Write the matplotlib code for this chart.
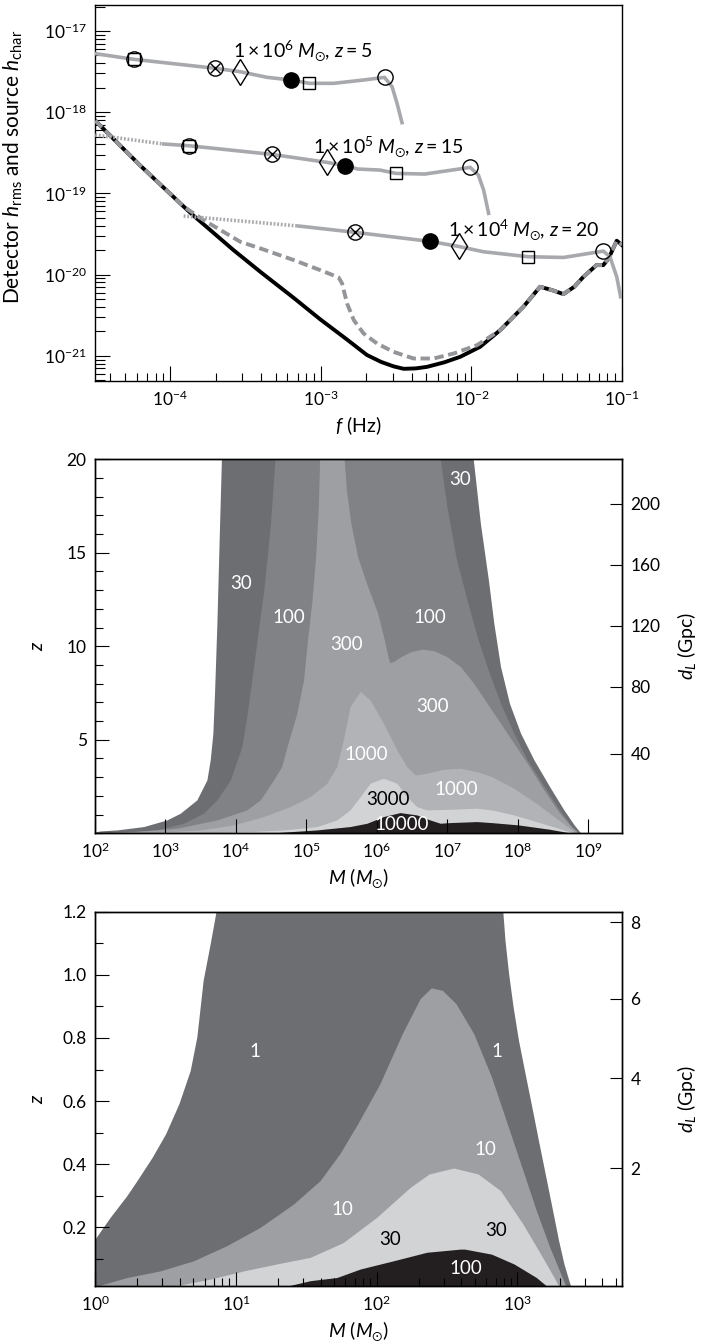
import numpy as np
import matplotlib.pyplot as plt
from matplotlib.ticker import FixedLocator, NullLocator, NullFormatter, MultipleLocator

plt.rcParams['font.family'] = ['Lato', 'DejaVu Sans']
plt.rcParams['mathtext.fontset'] = 'custom'
plt.rcParams['mathtext.rm'] = 'Lato'
plt.rcParams['mathtext.it'] = 'Lato:italic'
plt.rcParams['mathtext.bf'] = 'Lato:bold'
plt.rcParams['mathtext.fallback'] = 'stixsans'
plt.rcParams['font.size'] = 12.5
plt.rcParams['axes.linewidth'] = 1.0

# ---------------- top panel (values are log10) ----------------
# detector sensitivity, solid black
lf_noise = [-4.498, -4.200, -3.911, -3.843, -3.579, -3.401, -3.180, -3.004, -2.826, -2.694,
            -2.600, -2.517, -2.450, -2.370, -2.295, -2.180, -2.074, -1.942, -1.809, -1.655,
            -1.544, -1.465, -1.389, -1.317, -1.256, -1.169, -1.124, -1.089, -1.035, -1.000]
lh_noise = [-18.105, -18.656, -19.162, -19.278, -19.700, -19.967, -20.287, -20.551, -20.800, -20.990,
            -21.075, -21.130, -21.160, -21.155, -21.136, -21.080, -21.012, -20.889, -20.684, -20.396,
            -20.150, -20.191, -20.240, -20.150, -20.027, -19.883, -19.883, -19.801, -19.583, -19.637]
# detector sensitivity incl. confusion noise, dashed gray
lf_conf = [-4.498, -4.200, -3.911, -3.778, -3.535, -3.401, -3.180, -3.004, -2.882, -2.859,
           -2.826, -2.781, -2.716, -2.627, -2.518, -2.384, -2.251, -2.117, -1.963, -1.809,
           -1.655, -1.544, -1.465, -1.389, -1.317, -1.256, -1.169, -1.124, -1.089, -1.035, -1.000]
lh_conf = [-18.105, -18.656, -19.162, -19.329, -19.596, -19.678, -19.821, -19.945, -20.035, -20.109,
           -20.355, -20.561, -20.725, -20.848, -20.951, -21.033, -21.033, -20.971, -20.869, -20.684,
           -20.396, -20.150, -20.191, -20.240, -20.150, -20.027, -19.883, -19.883, -19.801, -19.583, -19.637]

# source tracks
lf_s1 = [-4.498, -4.243, -3.701, -3.538, -3.357, -3.197, -3.076, -2.915, -2.716, -2.577, -2.527, -2.494, -2.461]
lh_s1 = [-17.279, -17.349, -17.460, -17.501, -17.571, -17.604, -17.645, -17.645, -17.604, -17.571, -17.686, -17.891, -18.129]

lf_s2_dot = [-4.498, -4.043]
lh_s2_dot = [-18.281, -18.392]
lf_s2 = [-4.043, -3.877, -3.324, -2.959, -2.838, -2.755, -2.607, -2.500, -2.310, -2.008, -1.954, -1.919, -1.886]
lh_s2 = [-18.392, -18.413, -18.520, -18.618, -18.659, -18.700, -18.713, -18.754, -18.762, -18.680, -18.774, -18.959, -19.246]

lf_s3_dot = [-3.911, -3.146]
lh_s3_dot = [-19.279, -19.402]
lf_s3 = [-3.146, -2.771, -2.275, -2.085, -1.919, -1.622, -1.388, -1.124, -1.080, -1.035, -1.009]
lh_s3 = [-19.402, -19.480, -19.591, -19.653, -19.719, -19.780, -19.789, -19.711, -19.780, -20.027, -20.273]

# time markers along the tracks
lf_mk_cs = [-4.243, -3.877]
lh_mk_cs = [-17.349, -18.413]
lf_mk_x = [-3.701, -3.324, -2.771]
lh_mk_x = [-17.460, -18.520, -19.480]
lf_mk_d = [-3.538, -2.959, -2.085]
lh_mk_d = [-17.501, -18.618, -19.653]
lf_mk_f = [-3.197, -2.838, -2.275]
lh_mk_f = [-17.604, -18.659, -19.591]
lf_mk_s = [-3.076, -2.500, -1.622]
lh_mk_s = [-17.645, -18.754, -19.780]
lf_mk_o = [-2.577, -2.008, -1.124]
lh_mk_o = [-17.571, -18.680, -19.711]

src_labels = [r'$1\times10^{6}\;M_{\odot}$, $z = 5$',
              r'$1\times10^{5}\;M_{\odot}$, $z = 15$',
              r'$1\times10^{4}\;M_{\odot}$, $z = 20$']
lf_lab = [-3.585, -3.051, -2.153]
lh_lab = [-17.324, -18.499, -19.526]

f_ticks = [1e-4, 1e-3, 1e-2, 1e-1]
h_ticks = [1e-21, 1e-20, 1e-19, 1e-18, 1e-17]

# ---------------- middle panel: SNR contours, log10 M vs z ----------------
lm_30 = [2.000, 2.076, 2.311, 2.691, 3.021, 3.211, 3.446, 3.589, 3.636, 3.674, 3.699, 3.731, 3.763, 3.795,
         7.371, 7.472, 7.586, 7.663, 7.758, 7.885, 8.043, 8.233, 8.455, 8.658, 8.804, 8.899]
z_30 = [0.071, 0.125, 0.178, 0.357, 0.713, 1.070, 1.783, 2.852, 3.922, 5.348, 7.665, 11.23, 15.69, 20.0,
        20.0, 16.58, 13.55, 11.23, 8.913, 6.952, 5.348, 3.922, 2.496, 1.248, 0.446, 0.0]
lm_100 = [2.000, 2.431, 2.881, 3.256, 3.541, 3.731, 3.921, 4.086, 4.162, 4.226, 4.302, 4.397, 4.492, 4.555,
          6.902, 6.997, 7.124, 7.282, 7.441, 7.599, 7.758, 7.948, 8.138, 8.379, 8.595, 8.772, 8.880]
z_100 = [0.018, 0.071, 0.178, 0.535, 1.070, 1.783, 2.852, 4.635, 6.417, 8.200, 10.34, 13.01, 16.58, 20.0,
         20.0, 17.47, 14.80, 12.48, 10.34, 8.556, 6.952, 5.348, 3.922, 2.496, 1.248, 0.357, 0.0]
lm_300 = [2.000, 2.558, 3.160, 3.731, 4.156, 4.346, 4.536, 4.651, 4.727, 4.866, 4.961, 5.018, 5.082, 5.133,
          5.171, 5.190, 5.538, 5.570, 5.633, 5.729, 5.855, 6.014, 6.109, 6.160, 6.185, 6.236, 6.363, 6.490,
          6.648, 6.807, 6.997, 7.187, 7.377, 7.568, 7.758, 7.948, 8.138, 8.360, 8.582, 8.760, 8.867]
z_300 = [0.018, 0.089, 0.267, 0.713, 1.248, 1.783, 2.852, 3.565, 4.635, 6.417, 8.200, 10.34, 12.48, 14.80,
         17.47, 20.0, 20.0, 18.36, 16.58, 14.80, 13.37, 11.77, 10.34, 9.447, 9.126, 9.180, 9.483, 9.715,
         9.840, 9.768, 9.447, 8.913, 8.021, 6.952, 5.882, 4.813, 3.743, 2.406, 1.159, 0.357, 0.0]
lm_1000 = [2.000, 2.786, 3.497, 3.966, 4.391, 4.771, 5.056, 5.291, 5.434, 5.526, 5.621, 5.767, 5.906, 6.096,
           6.287, 6.426, 6.547, 6.711, 6.946, 7.187, 7.422, 7.631, 7.948, 8.265, 8.582, 8.804, 8.848]
z_1000 = [0.0, 0.036, 0.178, 0.446, 0.891, 1.426, 1.961, 2.674, 3.565, 4.991, 6.774, 7.576, 7.130, 5.882,
          4.456, 3.565, 3.119, 3.209, 3.422, 3.476, 3.298, 3.030, 2.406, 1.604, 0.713, 0.089, 0.0]
lm_3000 = [2.000, 3.731, 4.207, 4.676, 5.152, 5.434, 5.621, 5.767, 5.906, 6.096, 6.287, 6.426, 6.569, 6.711,
           7.041, 7.422, 7.631, 7.948, 8.265, 8.582, 8.804]
z_3000 = [0.0, 0.036, 0.089, 0.178, 0.357, 0.713, 1.248, 1.961, 2.674, 2.941, 2.674, 1.961, 1.426, 1.248,
          1.283, 1.337, 1.248, 0.980, 0.624, 0.267, 0.0]
lm_10000 = [4.441, 5.152, 5.621, 5.862, 6.096, 6.331, 6.569, 6.756, 6.902, 7.041, 7.422, 7.631, 8.011, 8.455, 8.772]
z_10000 = [0.0, 0.178, 0.357, 0.535, 0.891, 1.105, 0.980, 0.713, 0.535, 0.570, 0.624, 0.570, 0.446, 0.214, 0.0]

lab2_text = ['30', '100', '100', '300', '300', '1000', '1000', '3000', '10000', '30']
lab2_lm = [4.080, 4.746, 6.756, 5.570, 6.788, 5.855, 7.136, 6.160, 6.350, 7.187]
lab2_z = [13.37, 11.53, 11.53, 10.07, 6.77, 4.19, 2.32, 1.82, 0.48, 18.89]
lab2_col = ['w', 'w', 'w', 'w', 'w', 'w', 'w', 'k', 'w', 'w']

m2_ticks = [1e2, 1e3, 1e4, 1e5, 1e6, 1e7, 1e8, 1e9]
dl2_labels = ['40', '80', '120', '160', '200']
dl2_z = [4.24, 7.84, 11.10, 14.35, 17.61]

# ---------------- bottom panel ----------------
lm_b1 = [0.000, 0.108, 0.227, 0.298, 0.406, 0.501, 0.596, 0.676, 0.723, 0.768, 0.818, 0.859,
         2.896, 2.911, 2.937, 2.969, 3.007, 3.054, 3.102, 3.149, 3.197, 3.245, 3.292, 3.330, 3.362, 3.387]
z_b1 = [0.163, 0.232, 0.301, 0.348, 0.422, 0.496, 0.592, 0.697, 0.803, 0.983, 1.099, 1.2,
        1.2, 1.110, 1.004, 0.898, 0.793, 0.687, 0.581, 0.475, 0.369, 0.263, 0.158, 0.084, 0.036, 0.0]
lm_b10 = [0.000, 0.227, 0.463, 0.700, 0.936, 1.173, 1.410, 1.598, 1.738, 1.865, 2.023, 2.182, 2.309, 2.388,
          2.467, 2.563, 2.689, 2.816, 2.975, 3.134, 3.229, 3.308, 3.356]
z_b10 = [0.012, 0.041, 0.062, 0.094, 0.142, 0.200, 0.274, 0.348, 0.433, 0.528, 0.655, 0.814, 0.925, 0.959,
         0.951, 0.909, 0.814, 0.676, 0.465, 0.253, 0.137, 0.052, 0.0]
lm_b30 = [0.000, 0.580, 0.818, 1.056, 1.291, 1.529, 1.763, 2.001, 2.239, 2.372, 2.547, 2.721, 2.880, 3.038,
          3.165, 3.260, 3.308]
z_b30 = [0.0, 0.015, 0.036, 0.062, 0.084, 0.105, 0.152, 0.232, 0.327, 0.369, 0.388, 0.369, 0.316, 0.211,
         0.115, 0.041, 0.0]
lm_b100 = [1.231, 1.529, 1.717, 1.884, 2.119, 2.356, 2.594, 2.626, 2.816, 2.975, 3.134, 3.245]
z_b100 = [0.0, 0.031, 0.041, 0.068, 0.094, 0.121, 0.131, 0.131, 0.115, 0.084, 0.041, 0.0]

lab3_text = ['1', '1', '10', '10', '30', '30', '100']
lab3_lm = [1.135, 2.854, 2.769, 1.754, 2.096, 2.848, 2.632]
lab3_z = [0.758, 0.758, 0.446, 0.258, 0.163, 0.189, 0.068]
lab3_col = ['w', 'w', 'w', 'w', 'k', 'k', 'w']

m3_ticks = [1, 10, 100, 1000]
dl3_labels = ['2', '4', '6', '8']
dl3_z = [0.387, 0.673, 0.925, 1.166]

grays = ['#6d6e71', '#808285', '#9d9fa2', '#b1b3b6', '#d1d3d4', '#231f20']
src_gray = '#a7a9ac'
dash_gray = '#939598'


def minor_log(lo, hi):
    # 2..9 x each decade, kept inside [lo, hi]
    vals = np.outer(10.0 ** np.arange(np.floor(np.log10(lo)), np.ceil(np.log10(hi))), np.arange(2, 10)).ravel()
    return vals[(vals > lo) & (vals < hi)]


fig = plt.figure(figsize=(7.01, 13.42), dpi=100)
ax1 = fig.add_axes([0.1355, 0.7161, 0.7518, 0.2802])
ax2 = fig.add_axes([0.1355, 0.3791, 0.7518, 0.2787])
ax3 = fig.add_axes([0.1355, 0.0417, 0.7518, 0.2789])

p = lambda a: 10 ** np.array(a)

# ---- top panel ----
ax1.plot(p(lf_noise), p(lh_noise), color='black', lw=2.8, zorder=2)
ax1.plot(p(lf_conf), p(lh_conf), color=dash_gray, lw=2.8, dashes=(2.4, 1.2), zorder=3)
ax1.plot(p(lf_s1), p(lh_s1), color=src_gray, lw=2.6, zorder=4)
ax1.plot(p(lf_s2), p(lh_s2), color=src_gray, lw=2.6, zorder=4)
ax1.plot(p(lf_s3), p(lh_s3), color=src_gray, lw=2.6, zorder=4)
ax1.plot(p(lf_s2_dot), p(lh_s2_dot), color=src_gray, lw=2.6, ls=(0, (0.5, 0.5)), zorder=4)
ax1.plot(p(lf_s3_dot), p(lh_s3_dot), color=src_gray, lw=2.6, ls=(0, (0.5, 0.5)), zorder=4)

mk = dict(ls='none', color='black', mfc='none', mew=1.0, zorder=6)
ax1.plot(p(lf_mk_cs), p(lh_mk_cs), marker='o', ms=11, **mk)
ax1.plot(p(lf_mk_cs), p(lh_mk_cs), marker='s', ms=8, **mk)
ax1.plot(p(lf_mk_x), p(lh_mk_x), marker='o', ms=11, **mk)
ax1.plot(p(lf_mk_x), p(lh_mk_x), marker='x', ms=7.5, **mk)
ax1.plot(p(lf_mk_d), p(lh_mk_d), marker='d', ms=13, **mk)
ax1.plot(p(lf_mk_s), p(lh_mk_s), marker='s', ms=9, **mk)
ax1.plot(p(lf_mk_o), p(lh_mk_o), marker='o', ms=11, **mk)
ax1.plot(p(lf_mk_f), p(lh_mk_f), marker='o', ms=11, ls='none', color='black', zorder=6)

for t, x, y in zip(src_labels, lf_lab, lh_lab):
    ax1.text(10 ** x, 10 ** y, t, ha='left', va='baseline', fontsize=14, zorder=7)

ax1.set_xscale('log')
ax1.set_yscale('log')
ax1.set_xlim(10 ** -4.5, 0.1)
ax1.set_ylim(10 ** -21.31, 10 ** -16.68)
ax1.xaxis.set_major_locator(FixedLocator(f_ticks))
ax1.xaxis.set_minor_locator(FixedLocator(minor_log(10 ** -4.5, 0.1)))
ax1.yaxis.set_major_locator(FixedLocator(h_ticks))
ax1.yaxis.set_minor_locator(FixedLocator(minor_log(10 ** -21.31, 10 ** -16.68)))
ax1.xaxis.set_minor_formatter(NullFormatter())
ax1.yaxis.set_minor_formatter(NullFormatter())
ax1.tick_params(which='both', direction='in', top=False, right=False, width=0.8)
ax1.tick_params(which='major', length=10.5, pad=6)
ax1.tick_params(axis='x', which='minor', length=6)
ax1.tick_params(axis='y', which='minor', length=7.5)
ax1.set_xlabel(r'$f$ (Hz)', fontsize=14)
ax1.set_ylabel(r'Detector $h_{\mathrm{rms}}$ and source $h_{\mathrm{char}}$', fontsize=15)
ax1.yaxis.set_label_coords(-0.133, 0.57)

# ---- middle panel ----
levels2 = [(lm_30, z_30), (lm_100, z_100), (lm_300, z_300),
           (lm_1000, z_1000), (lm_3000, z_3000), (lm_10000, z_10000)]
for (lm, zz), c in zip(levels2, grays):
    ax2.fill_between(p(lm), 0, zz, color=c, lw=0)
for t, x, y, c in zip(lab2_text, lab2_lm, lab2_z, lab2_col):
    ax2.text(10 ** x, y, t, color=c, ha='center', va='center', fontsize=13.5)

ax2.set_xscale('log')
ax2.set_xlim(1e2, 10 ** 9.483)
ax2.set_ylim(0, 20)
ax2.xaxis.set_major_locator(FixedLocator(m2_ticks))
ax2.xaxis.set_minor_locator(NullLocator())
ax2.set_yticks([5, 10, 15, 20])
ax2.yaxis.set_minor_locator(MultipleLocator(1))
ax2.tick_params(which='both', direction='in', top=False, right=False, width=0.8)
ax2.tick_params(which='major', length=10, pad=6)
ax2.tick_params(which='minor', length=6)
ax2.set_xlabel(r'$M$ ($M_{\odot}$)', fontsize=14)
ax2.set_ylabel(r'$z$', fontsize=14)
ax2.yaxis.set_label_coords(-0.093, 0.5)

ax2r = ax2.twinx()
ax2r.set_ylim(0, 20)
ax2r.set_yticks(dl2_z)
ax2r.set_yticklabels(dl2_labels)
ax2r.yaxis.set_minor_locator(NullLocator())
ax2r.tick_params(direction='in', length=9, width=0.8, pad=6)
ax2r.set_ylabel(r'$d_L$ (Gpc)', fontsize=14)
ax2r.yaxis.set_label_coords(1.10, 0.5)

# ---- bottom panel ----
levels3 = [(lm_b1, z_b1), (lm_b10, z_b10), (lm_b30, z_b30), (lm_b100, z_b100)]
for (lm, zz), c in zip(levels3, [grays[0], grays[2], grays[4], grays[5]]):
    ax3.fill_between(p(lm), 0, zz, color=c, lw=0)
for t, x, y, c in zip(lab3_text, lab3_lm, lab3_z, lab3_col):
    ax3.text(10 ** x, y, t, color=c, ha='center', va='center', fontsize=13.5)

ax3.set_xscale('log')
ax3.set_xlim(1, 10 ** 3.742)
ax3.set_ylim(0.014, 1.2)
ax3.xaxis.set_major_locator(FixedLocator(m3_ticks))
ax3.xaxis.set_minor_locator(FixedLocator(minor_log(1, 10 ** 3.742)))
ax3.xaxis.set_minor_formatter(NullFormatter())
ax3.set_yticks([0.2, 0.4, 0.6, 0.8, 1.0, 1.2])
ax3.yaxis.set_minor_locator(MultipleLocator(0.1))
ax3.tick_params(which='both', direction='in', top=False, right=False, width=0.8)
ax3.tick_params(which='major', length=10, pad=6)
ax3.tick_params(which='minor', length=6)
ax3.set_xlabel(r'$M$ ($M_{\odot}$)', fontsize=14)
ax3.set_ylabel(r'$z$', fontsize=14)
ax3.yaxis.set_label_coords(-0.093, 0.5)

ax3r = ax3.twinx()
ax3r.set_ylim(0.014, 1.2)
ax3r.set_yticks(dl3_z)
ax3r.set_yticklabels(dl3_labels)
ax3r.yaxis.set_minor_locator(NullLocator())
ax3r.tick_params(direction='in', length=9, width=0.8, pad=6)
ax3r.set_ylabel(r'$d_L$ (Gpc)', fontsize=14)
ax3r.yaxis.set_label_coords(1.10, 0.5)

for a in (ax1, ax2, ax3, ax2r, ax3r):
    a.xaxis.offsetText.set_visible(False)
    a.yaxis.offsetText.set_visible(False)

fig.savefig('out.png', dpi=100)
